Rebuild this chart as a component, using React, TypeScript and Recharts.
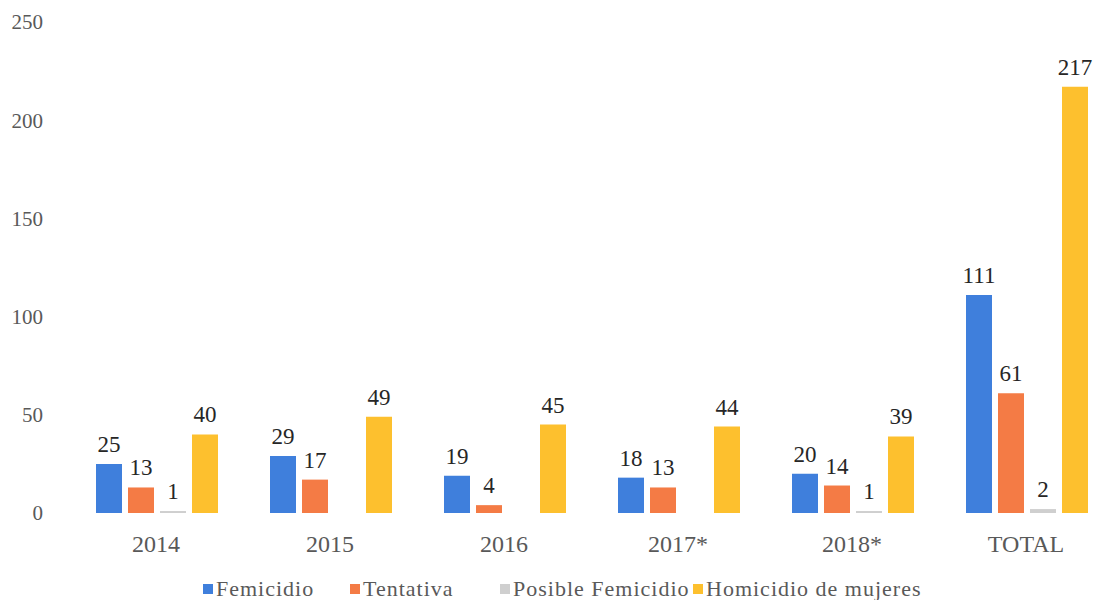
import { BarChart, Bar, XAxis, YAxis, Legend, LabelList } from "recharts";

const categories = ["2014", "2015", "2016", "2017*", "2018*", "TOTAL"];
const femicidio = [25, 29, 19, 18, 20, 111];
const tentativa = [13, 17, 4, 13, 14, 61];
const posibleFemicidio = [1, 0, 0, 0, 1, 2];
const homicidioMujeres = [40, 49, 45, 44, 39, 217];
const yTicks = [0, 50, 100, 150, 200, 250];

const series = [
    { key: "femicidio", name: "Femicidio", color: "#3f7fdc", w: 147 },
    { key: "tentativa", name: "Tentativa", color: "#f47b45", w: 150 },
    { key: "posible", name: "Posible Femicidio", color: "#cfcfcf", w: 193 },
    { key: "homicidio", name: "Homicidio de mujeres", color: "#fdc02e", w: 270 },
];

const data = categories.map((cat, i) => ({
    cat,
    femicidio: femicidio[i],
    tentativa: tentativa[i],
    posible: posibleFemicidio[i],
    homicidio: homicidioMujeres[i],
}));

const FONT = '"Liberation Serif", "Times New Roman", serif';

function LegendContent() {
    return (
        <div
            style={{
                display: "flex",
                paddingLeft: 203,
                fontFamily: FONT,
                fontSize: 22,
                lineHeight: "22px",
                letterSpacing: 1,
                color: "#595959",
                whiteSpace: "nowrap",
            }}
        >
            {series.map((s) => (
                <span key={s.key} style={{ display: "flex", alignItems: "center", width: s.w }}>
                    <span
                        style={{
                            display: "inline-block",
                            width: 10,
                            height: 10,
                            background: s.color,
                            marginRight: 3,
                        }}
                    />
                    {s.name}
                </span>
            ))}
        </div>
    );
}

export default function App() {
    return (
        <div style={{ width: 1094, height: 600, overflow: "hidden" }}>
            <style>{"body{margin:0}"}</style>
            <BarChart
                width={1113}
                height={600}
                data={data}
                margin={{ top: 22, right: 0, bottom: 0, left: 0 }}
                barCategoryGap={27}
                barGap={6}
            >
                <YAxis
                    domain={[0, 250]}
                    ticks={yTicks}
                    axisLine={false}
                    tickLine={false}
                    tickSize={0}
                    tickMargin={26}
                    width={69}
                    tick={{ fill: "#595959", fontSize: 21, fontFamily: FONT }}
                />
                <XAxis
                    dataKey="cat"
                    axisLine={false}
                    tickLine={false}
                    tickSize={0}
                    tickMargin={22}
                    height={65}
                    tick={{ fill: "#595959", fontSize: 24, fontFamily: FONT }}
                />
                <Legend verticalAlign="bottom" height={22} content={<LegendContent />} />
                {series.map((s) => (
                    <Bar
                        key={s.key}
                        dataKey={s.key}
                        name={s.name}
                        fill={s.color}
                        isAnimationActive={false}
                    >
                        <LabelList
                            dataKey={s.key}
                            position="top"
                            offset={12}
                            style={{ fill: "#262626", fontSize: 23, fontFamily: FONT }}
                        />
                    </Bar>
                ))}
            </BarChart>
        </div>
    );
}
